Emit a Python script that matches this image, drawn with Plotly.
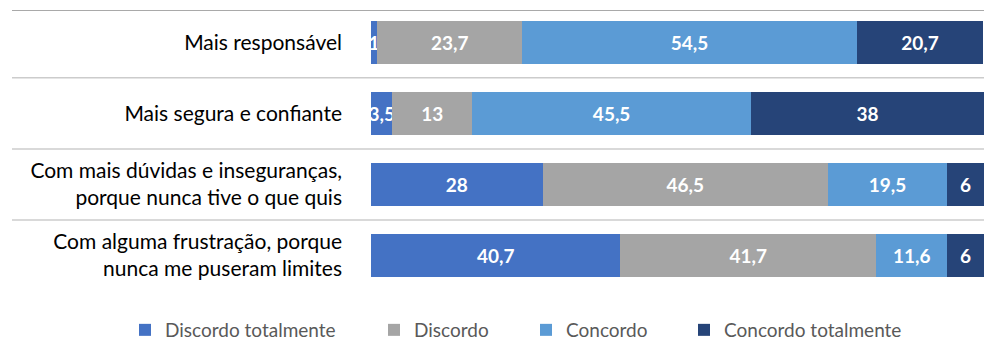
import plotly.graph_objects as go

categories = [
    "Mais responsável",
    "Mais segura e confiante",
    "Com mais dúvidas e inseguranças,<br>porque nunca tive o que quis",
    "Com alguma frustração, porque<br>nunca me puseram limites",
]
series_names = ["Discordo totalmente", "Discordo", "Concordo", "Concordo totalmente"]
discordo_totalmente = [1, 3.5, 28, 40.7]
discordo = [23.7, 13, 46.5, 41.7]
concordo = [54.5, 45.5, 19.5, 11.6]
concordo_totalmente = [20.7, 38, 6, 6]
colors = ["#4472C4", "#A5A5A5", "#5B9BD5", "#264478"]

series_values = [discordo_totalmente, discordo, concordo, concordo_totalmente]

FONT = "Lato"
W, H = 984, 355
legend_x = [125, 374, 526, 684]
legend_names = ["legend", "legend2", "legend3", "legend4"]

fig = go.Figure()
for name, vals, col, lg in zip(series_names, series_values, colors, legend_names):
    fig.add_trace(go.Bar(
        y=categories, x=vals, name=name, orientation="h",
        marker=dict(color=col, line=dict(width=0)),
        text=[str(v).replace(".", ",") for v in vals],
        textposition="inside", insidetextanchor="middle", textangle=0,
        textfont=dict(family=FONT, size=19, color="white", weight="bold"),
        cliponaxis=False,
        legend=lg, showlegend=True, hoverinfo="skip",
    ))

layout_legends = {}
for lg, lx in zip(legend_names, legend_x):
    layout_legends[lg] = dict(
        x=lx / W, xref="container", xanchor="left",
        y=1 - 330 / H, yref="container", yanchor="middle",
        orientation="h", bgcolor="rgba(0,0,0,0)", borderwidth=0,
        font=dict(family=FONT, size=19, color="#595959"),
        itemclick=False, itemdoubleclick=False,
    )

shapes = []
shapes.append(dict(type="line", xref="paper", yref="y", x0=12 / W, x1=1,
                   y0=-0.455, y1=-0.455, line=dict(color="#8C8C8C", width=1.5)))
for b in [0.5, 1.5, 2.5]:
    shapes.append(dict(type="line", xref="paper", yref="y", x0=12 / W, x1=1,
                       y0=b, y1=b, line=dict(color="#CCCCCC", width=1.5)))

fig.update_layout(
    width=W, height=H,
    margin=dict(l=0, r=0, t=10, b=64, autoexpand=False),
    paper_bgcolor="white", plot_bgcolor="white",
    showlegend=True,
    barmode="stack", bargap=0.4,
    uniformtext=dict(minsize=19, mode="show"),
    shapes=shapes,
    xaxis=dict(domain=[371 / W, 1], range=[0, 100], showgrid=False, zeroline=False,
               showticklabels=False, showline=False, fixedrange=True, automargin=False),
    yaxis=dict(type="category", categoryorder="array", categoryarray=categories,
               range=[3.5, -0.455], showgrid=False, zeroline=False, showline=False,
               ticks="", ticklabelstandoff=28, automargin=False,
               tickfont=dict(family=FONT, size=21, color="#000000"), fixedrange=True),
    **layout_legends,
)

fig.write_html(
    "out.html",
    config={"displayModeBar": False},
    post_script="document.body.style.margin='0';document.body.style.overflow='hidden';",
)
